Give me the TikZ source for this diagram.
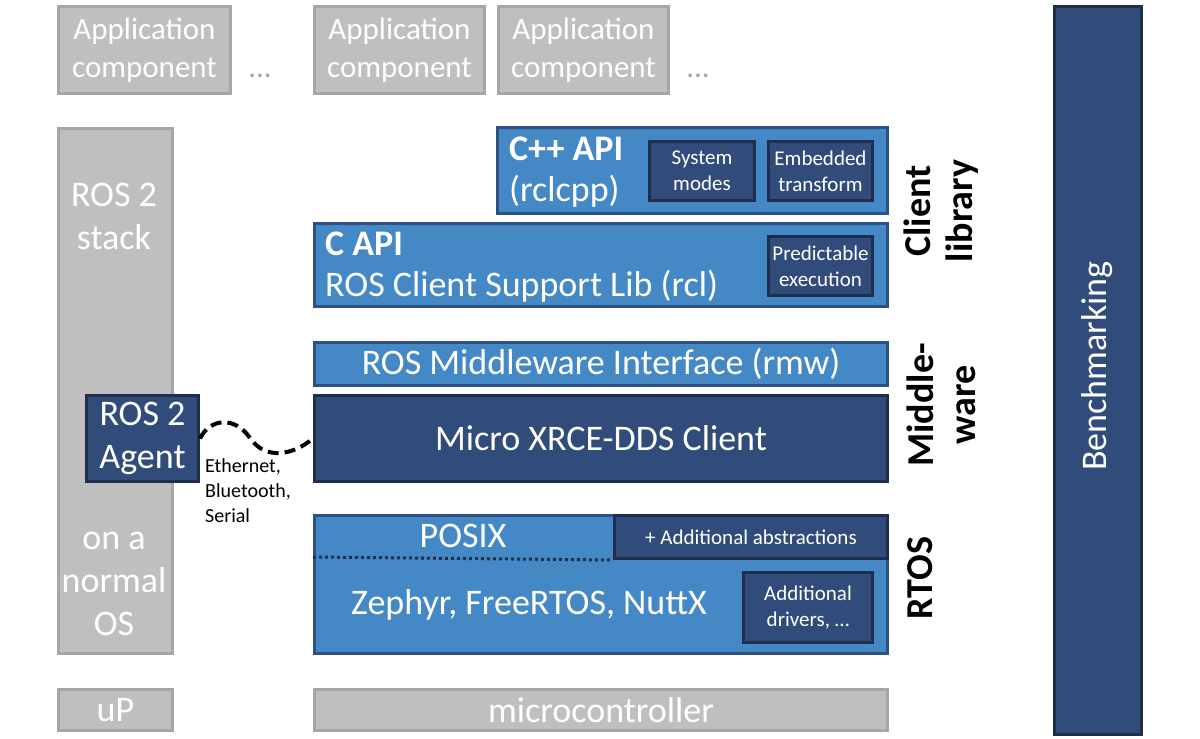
\documentclass[tikz,border=0pt]{standalone}
\usepackage{fontspec}
\setmainfont{Carlito}
\definecolor{grayf}{RGB}{191,191,191}
\definecolor{grayb}{RGB}{166,166,166}
\definecolor{bluel}{RGB}{68,137,198}
\definecolor{blueb}{RGB}{47,80,130}
\definecolor{blued}{RGB}{49,76,122}
\definecolor{bluedb}{RGB}{31,46,77}
\newcommand{\fsz}[2]{\fontsize{#1}{#2}\selectfont}
\newcommand{\bx}[7]{\node[#2, anchor=north west, minimum width={#5-#3}, minimum height={#6-#4}] (#1) at (#3,#4) {#7};}
\tikzset{
  gbox/.style={draw=grayb, fill=grayf, line width=3pt, text=white, align=center, inner sep=0pt, font=\fsz{36}{43}},
  lbox/.style={draw=blueb, fill=bluel, line width=3pt, text=white, align=center, inner sep=0pt, font=\fsz{36}{43}},
  dbox/.style={draw=bluedb, fill=blued, line width=3pt, text=white, align=center, inner sep=0pt, font=\fsz{36}{43}},
  sbox/.style={dbox, font=\fsz{21}{26}},
  wtext/.style={text=white, inner sep=0pt, font=\fsz{36}{43}, align=center},
  layer/.style={text=black, inner sep=0pt, font=\bfseries\fsz{38}{42}, align=center, rotate=90},
  wave/.style={draw=black, line width=4pt, dash pattern=on 11pt off 6pt},
}
\begin{document}
\begin{tikzpicture}[x=1pt,y=-1pt]
\useasboundingbox (0,0) rectangle (1200,739);
% application components
\bx{app1}{gbox, font=\fsz{31}{38}}{57}{5}{229}{92}{Application\\component}
\bx{app2}{gbox, font=\fsz{31}{38}}{313}{5}{483}{92}{Application\\component}
\bx{app3}{gbox, font=\fsz{31}{38}}{497}{5}{667}{92}{Application\\component}
\node[text=grayb, font=\fsz{31}{38}, anchor=base, inner sep=0pt] (dots1) at (260,77) {...};
\node[text=grayb, font=\fsz{31}{38}, anchor=base, inner sep=0pt] (dots2) at (698,77) {...};
% left stack
\bx{stack}{gbox}{57}{127}{171}{652}{}
\node[wtext] (stacktxt) at (114,216) {ROS 2\\stack};
\node[wtext] (ostxt) at (114,584) {on a\\normal\\OS};
\bx{agent}{dbox}{85}{394}{197}{480}{ROS 2\\Agent}
% client library
\bx{cpp}{lbox}{496}{126}{886}{212}{}
\node[text=white, inner sep=0pt, anchor=base west, font=\bfseries\fsz{36}{43}] (cpptxt) at (509,160) {C++ API};
\node[text=white, inner sep=0pt, anchor=base west, font=\fsz{36}{43}] (rclcpp) at (509,201) {(rclcpp)};
\bx{sysm}{sbox}{648}{140}{753}{199}{System\\modes}
\bx{emb}{sbox}{767}{140}{871}{199}{Embedded\\transform}
\bx{capi}{lbox}{313}{222}{886}{305}{}
\node[text=white, inner sep=0pt, anchor=base west, font=\bfseries\fsz{36}{43}] (capitxt) at (325,255) {C API};
\node[text=white, inner sep=0pt, anchor=base west, font=\fsz{36}{43}] (rcltxt) at (325,296) {ROS Client Support Lib (rcl)};
\bx{pred}{sbox}{767}{235}{871}{294}{Predictable\\execution}
% middleware
\bx{rmw}{lbox}{313}{341}{886}{384}{ROS Middleware Interface (rmw)}
\bx{micro}{dbox}{313}{394}{886}{480}{Micro XRCE-DDS Client}
% rtos
\bx{rtos}{lbox}{313}{514}{886}{652}{}
\bx{abst}{sbox}{613}{514}{886}{557}{+ Additional abstractions}
\coordinate (dotl) at (313,557);
\draw[draw=bluedb, line width=3pt, dash pattern=on 3pt off 3pt] (dotl) -- (abst.south west);
\node[wtext] (posix) at (463,536) {POSIX};
\node[wtext] (zeph) at (529,605) {Zephyr, FreeRTOS, NuttX};
\bx{drv}{sbox}{742}{571}{871}{641}{Additional\\drivers, …}
% hardware
\bx{up}{gbox}{57}{688}{171}{729}{uP}
\bx{mcu}{gbox}{313}{688}{886}{729}{microcontroller}
% benchmarking
\bx{bench}{dbox}{1053}{5}{1140}{733}{}
\node[wtext, rotate=90] (benchtxt) at (1097,366) {Benchmarking};
% layer labels
\node[layer] (lclient) at (941,211) {Client\\library};
\node[layer] (lmid) at (941,405) {Middle-\\ware};
\node[layer] (lrtos) at (920,578) {RTOS};
% link
\coordinate (wm) at (250,438);
\draw[wave] (agent.east) .. controls (210,418) and (235,416) .. (wm) .. controls (265,460) and (292,456) .. (micro.west);
\node[text=black, inner sep=0pt, anchor=north west, align=left, font=\fsz{20}{25}] (linktxt) at (205,458) {Ethernet,\\Bluetooth,\\Serial};
\end{tikzpicture}
\end{document}
